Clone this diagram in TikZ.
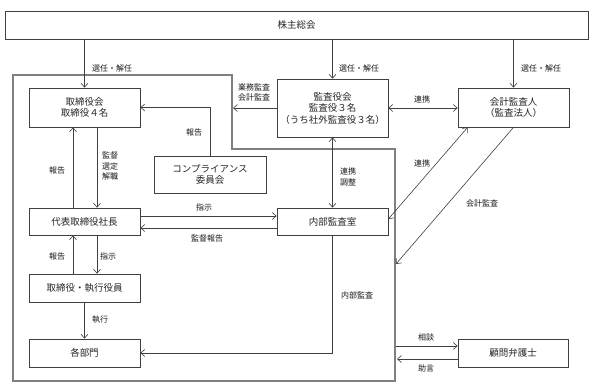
\documentclass[tikz,border=0pt]{standalone}
\usepackage{fontspec}
\setmainfont{Noto Sans CJK JP}
\usetikzlibrary{arrows.meta}

\begin{document}
\begin{tikzpicture}[
  x=1pt, y=-1pt,
  font=\fontsize{9.5}{11.5}\selectfont,
  >={Straight Barb[length=4pt, width=7pt]},
  box/.style={draw=black!75, line width=0.7pt, align=center, inner sep=1pt,
              text=black!85, minimum width=#1},
  box/.default=111pt,
  lbl/.style={font=\fontsize{8}{10.5}\selectfont, text=black!90, align=center, inner sep=0pt},
  flow/.style={->, line width=0.6pt, draw=black!75},
  both/.style={<->, line width=0.6pt, draw=black!75},
  frame/.style={draw=black!50, line width=2pt},
]
\useasboundingbox[fill=white] (0,0) rectangle (595,388);

% ---------- Shareholders ----------
\node[box=583pt, minimum height=28pt] (soukai) at (296.5,25) {株主総会};

% ---------- Company frame ----------
\draw[frame] (13,75) -- (232,75) -- (232,149) -- (395,149) -- (395,381) -- (13,381) -- cycle;
\coordinate (fa) at (233,108);
\coordinate (fb) at (396,264);
\coordinate (fc) at (396,346);
\coordinate (fd) at (397,359);

% ---------- Boxes ----------
\node[box, minimum height=39pt] (tori)   at (84.5,107.5) {取締役会\\取締役４名};
\node[box, minimum height=58pt] (kansa)  at (332.5,108)  {監査役会\\監査役３名\\（うち社外監査役３名）};
\node[box, minimum height=39pt] (kaikei) at (513.5,107.5) {会計監査人\\（監査法人）};
\node[box=112pt, minimum height=37pt] (comp) at (210,174.5) {コンプライアンス\\委員会};
\node[box, minimum height=27pt] (daihyo) at (84.5,221.5) {代表取締役社長};
\node[box, minimum height=27pt] (naibu)  at (332.5,221.5) {内部監査室};
\node[box, minimum height=28pt] (shikko) at (84.5,288)   {取締役・執行役員};
\node[box, minimum height=28pt] (bumon)  at (84.5,353)   {各部門};
\node[box=110pt, minimum height=28pt] (komon) at (513,353) {顧問弁護士};

% ---------- Election ----------
\draw[flow] (soukai.south -| tori) -- (tori.north);
\draw[flow] (soukai.south -| kansa) -- (kansa.north);
\draw[flow] (soukai.south -| kaikei) -- (kaikei.north);
\node[lbl] (l-sen1) at (112,68) {選任・解任};
\node[lbl] (l-sen2) at (359,68) {選任・解任};
\node[lbl] (l-sen3) at (541,68) {選任・解任};

% ---------- Audit board ----------
\draw[flow] (kansa.west |- fa) -- (fa);
\node[lbl] (l-gyomu) at (254,92.5) {業務監査\\会計監査};
\draw[both] (kansa.east |- 0,108) -- (kaikei.west |- 0,108);
\node[lbl] (l-ren1) at (422,99) {連携};
\draw[both] (kansa.south) -- (naibu.north);
\node[lbl] (l-ren2) at (348,177) {連携\\調整};

% ---------- Board and president ----------
\draw[flow] (comp.north) |- (tori.east);
\node[lbl] (l-hou1) at (194,132) {報告};
\draw[flow] ([xshift=12.5pt]tori.south) -- ([xshift=12.5pt]daihyo.north);
\node[lbl] (l-kan) at (110,166) {監督\\選定\\解職};
\draw[flow] ([xshift=-11.5pt]daihyo.north) -- ([xshift=-11.5pt]tori.south);
\node[lbl] (l-hou2) at (57,170) {報告};

\draw[flow] ([yshift=5.5pt]daihyo.east) -- ([yshift=5.5pt]naibu.west);
\node[lbl] (l-shi1) at (204,207) {指示};
\draw[flow] ([yshift=-6.5pt]naibu.west) -- ([yshift=-6.5pt]daihyo.east);
\node[lbl] (l-kanh) at (207,238) {監督報告};

\draw[flow] ([xshift=12.5pt]daihyo.south) -- ([xshift=12.5pt]shikko.north);
\node[lbl] (l-shi2) at (108,256) {指示};
\draw[flow] ([xshift=-11.5pt]shikko.north) -- ([xshift=-11.5pt]daihyo.south);
\node[lbl] (l-hou3) at (57,256) {報告};
\draw[flow] (shikko.south) -- (bumon.north);
\node[lbl] (l-shikko) at (100,320) {執行};

% ---------- Internal audit ----------
\draw[flow] (naibu.south) |- (bumon.east);
\node[lbl] (l-naibu) at (357,295) {内部監査};

% ---------- Accounting auditor ----------
\draw[both] ([xshift=10pt]kaikei.south west) -- ([yshift=2.5pt]naibu.east);
\node[lbl] (l-ren3) at (422,163) {連携};
\draw[flow] (kaikei.south) -- (fb);
\node[lbl] (l-kaikei) at (482,203) {会計監査};

% ---------- Legal advisor ----------
\draw[flow] (fc) -- ([yshift=7pt]komon.west);
\node[lbl] (l-sou) at (426,337) {相談};
\draw[flow] ([yshift=-6pt]komon.west) -- (fd);
\node[lbl] (l-jo) at (426,368) {助言};

\end{tikzpicture}
\end{document}
